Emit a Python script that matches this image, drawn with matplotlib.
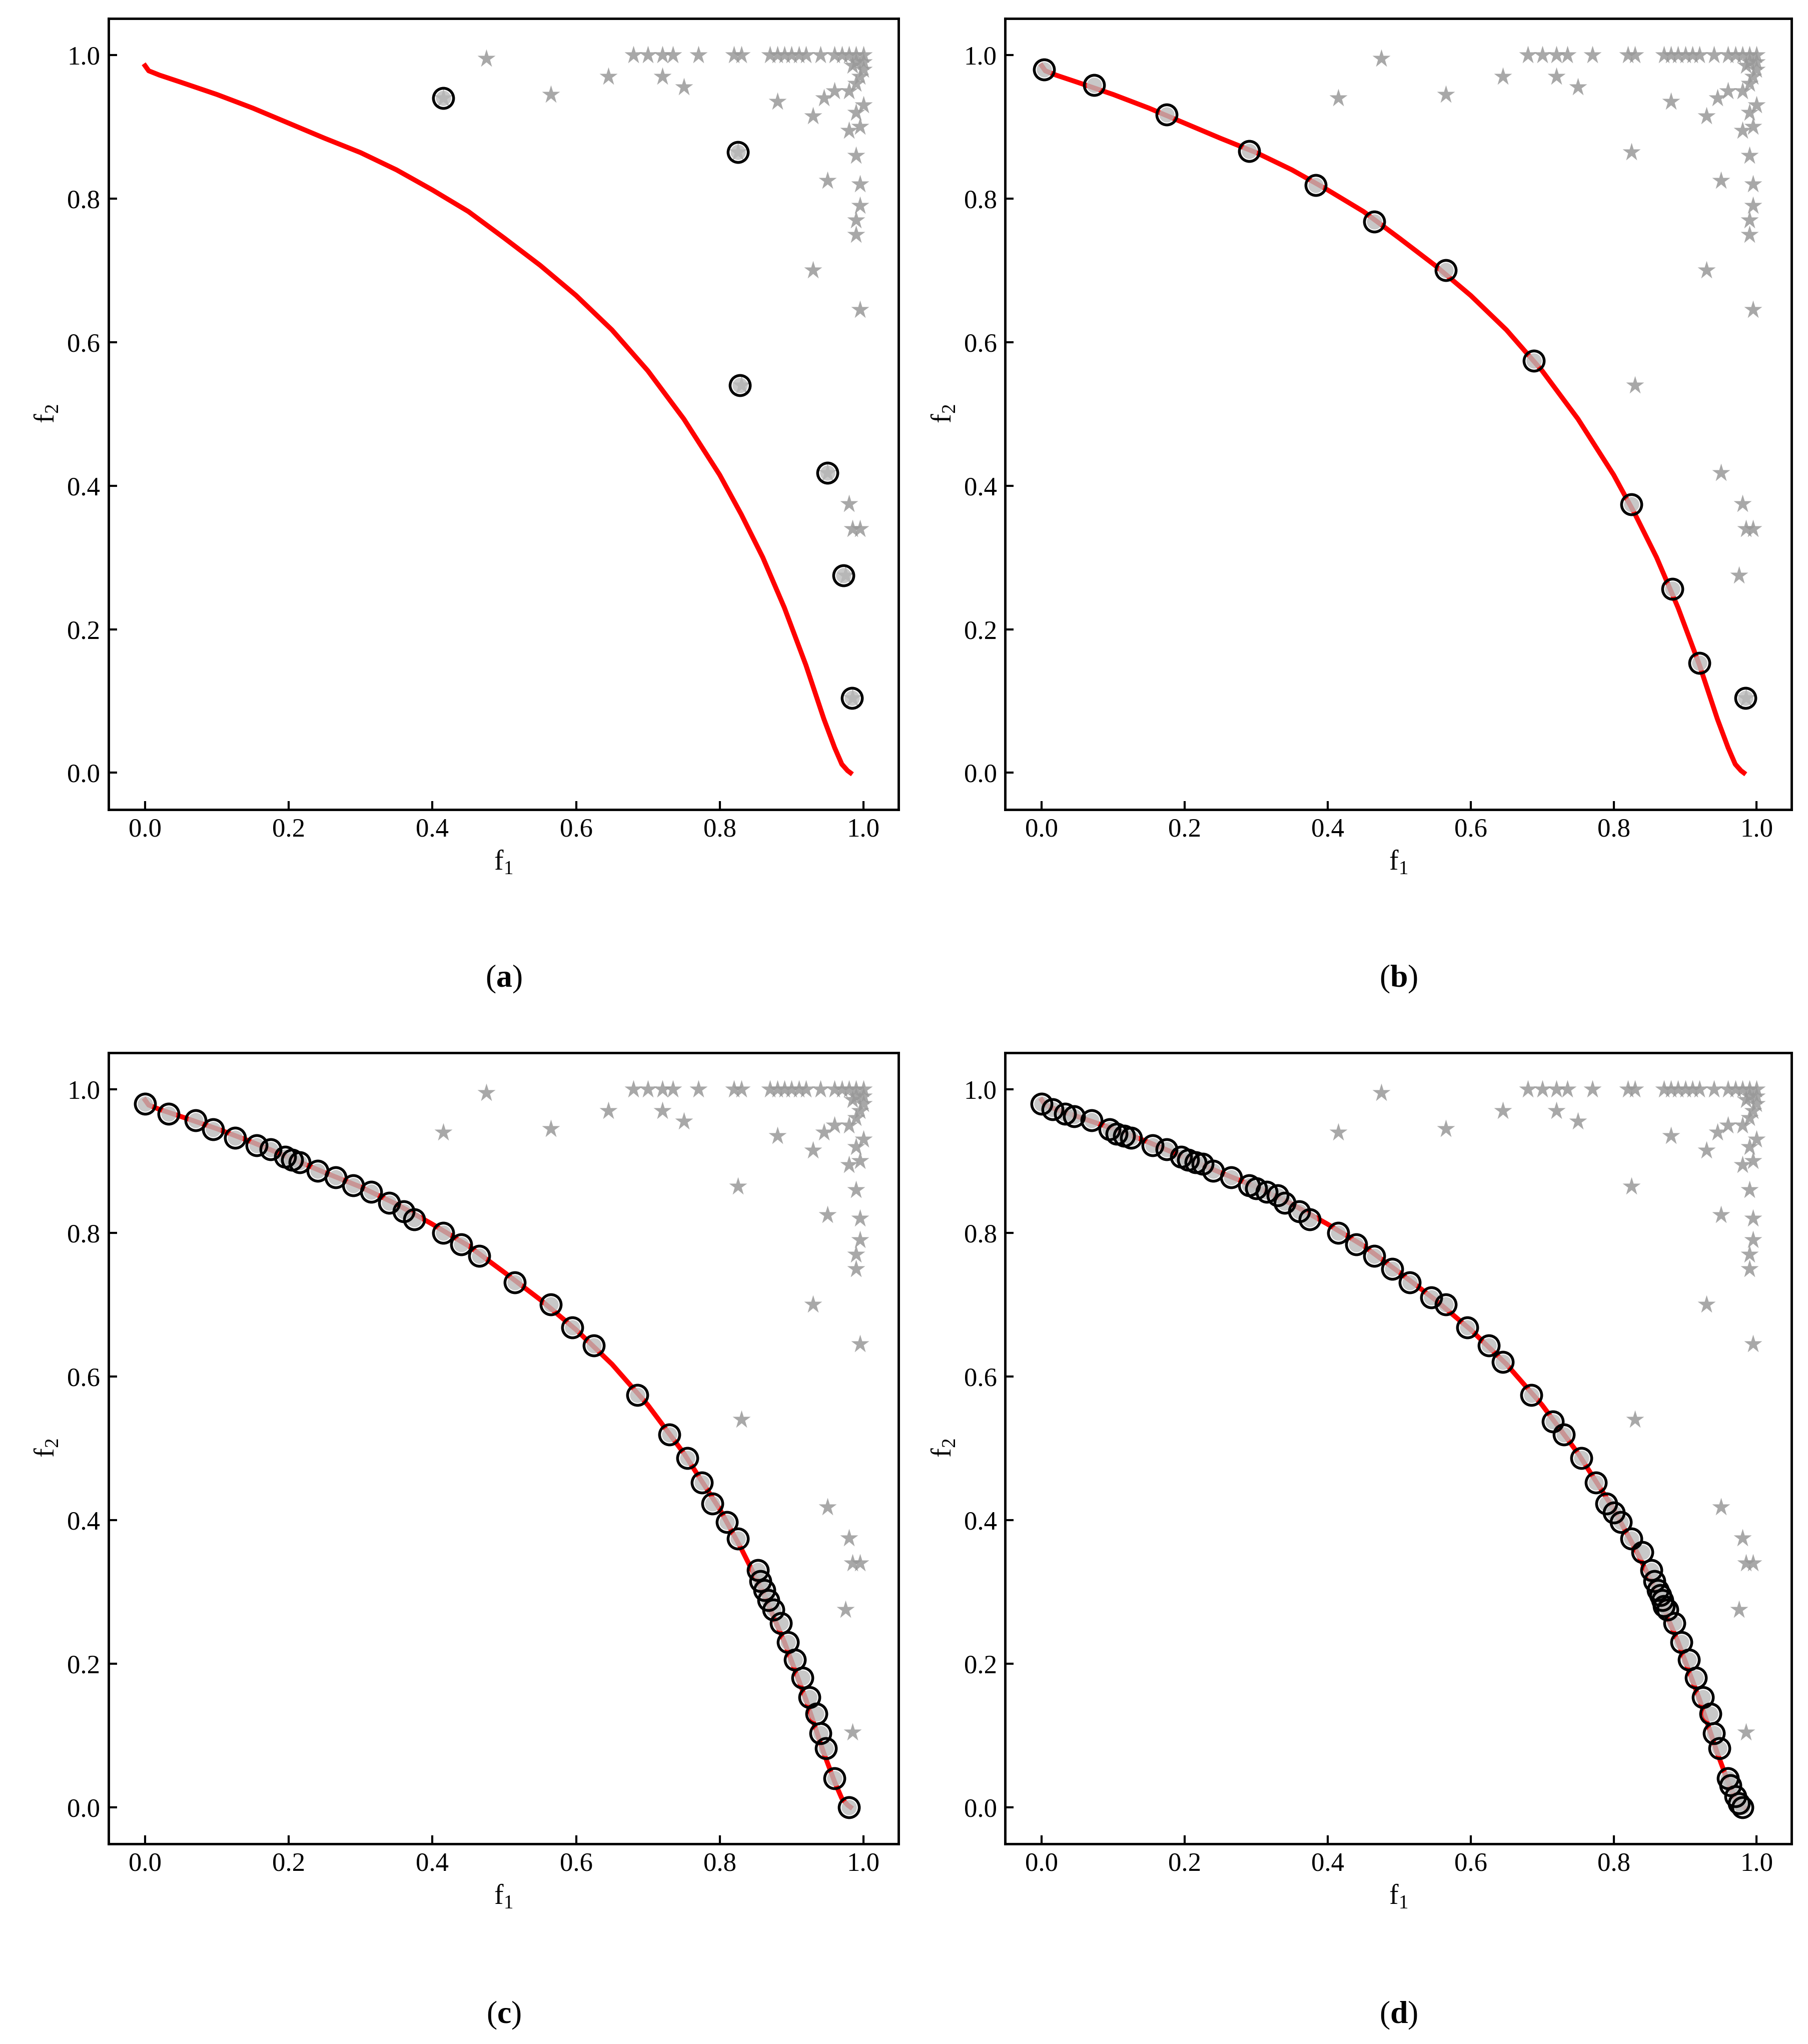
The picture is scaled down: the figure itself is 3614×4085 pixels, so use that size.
import matplotlib
matplotlib.use("Agg")
import matplotlib.pyplot as plt

plt.rcParams['font.family'] = ['Liberation Serif', 'DejaVu Serif']
plt.rcParams['mathtext.fontset'] = 'custom'
plt.rcParams['mathtext.rm'] = 'Liberation Serif'
plt.rcParams['mathtext.bf'] = 'Liberation Serif:bold'

front_f1 = [0.0, 0.005, 0.02, 0.05, 0.1, 0.15, 0.2, 0.25, 0.3, 0.35, 0.4, 0.45, 0.5, 0.55, 0.6, 0.65,
            0.7, 0.75, 0.8, 0.83, 0.86, 0.89, 0.92, 0.945, 0.96, 0.97, 0.978, 0.982]
front_f2 = [0.985, 0.978, 0.972, 0.962, 0.945, 0.926, 0.905, 0.884, 0.864, 0.84, 0.812, 0.782, 0.745, 0.707, 0.665, 0.617,
            0.56, 0.493, 0.415, 0.36, 0.3, 0.23, 0.15, 0.075, 0.035, 0.012, 0.003, 0.0]

stars_f1 = [0.475, 0.68, 0.70, 0.72, 0.735, 0.77, 0.82, 0.83, 0.87, 0.88, 0.89, 0.90, 0.91, 0.92, 0.94, 0.96, 0.97,
            0.98, 0.99, 1.0, 0.565, 0.645, 0.72, 0.75, 0.88, 0.93, 0.945, 0.96, 0.95, 0.93, 0.98, 0.99, 0.995,
            0.995, 0.99, 0.99, 0.995, 0.98, 0.985, 0.995, 0.975, 0.985, 0.95, 0.83, 0.825, 0.415, 1.0, 0.995,
            0.99, 1.0, 0.99, 0.995, 0.98, 0.985, 1.0, 0.99]
stars_f2 = [0.995, 1.0, 1.0, 1.0, 1.0, 1.0, 1.0, 1.0, 1.0, 1.0, 1.0, 1.0, 1.0, 1.0, 1.0, 1.0, 1.0,
            1.0, 1.0, 1.0, 0.945, 0.97, 0.97, 0.955, 0.935, 0.915, 0.94, 0.95, 0.825, 0.70, 0.895, 0.86, 0.82,
            0.79, 0.77, 0.75, 0.645, 0.375, 0.34, 0.34, 0.275, 0.104, 0.418, 0.54, 0.865, 0.94, 0.99, 0.97,
            0.96, 0.93, 0.92, 0.90, 0.95, 0.985, 0.98, 0.99]

a_f1 = [0.415, 0.825, 0.828, 0.95, 0.972, 0.984]
a_f2 = [0.94, 0.865, 0.54, 0.418, 0.275, 0.104]

b_f1 = [0.003, 0.073, 0.175, 0.29, 0.383, 0.465, 0.565, 0.688, 0.825, 0.882, 0.92, 0.984]
b_f2 = [0.98, 0.958, 0.917, 0.866, 0.819, 0.768, 0.70, 0.574, 0.374, 0.256, 0.153, 0.104]

c_f1 = [0.0, 0.033, 0.07, 0.095, 0.125, 0.155, 0.175, 0.195, 0.205, 0.215, 0.24, 0.265, 0.29, 0.315, 0.34,
        0.36, 0.375, 0.415, 0.44, 0.465, 0.515, 0.565, 0.595, 0.625, 0.685, 0.73, 0.755, 0.775, 0.79, 0.81,
        0.825, 0.853, 0.857, 0.862, 0.868, 0.875, 0.885, 0.895, 0.905, 0.915, 0.925, 0.935, 0.94, 0.948, 0.96, 0.98]
c_f2 = [0.98, 0.966, 0.957, 0.944, 0.932, 0.922, 0.916, 0.906, 0.902, 0.898, 0.886, 0.877, 0.866, 0.857, 0.842,
        0.83, 0.819, 0.80, 0.784, 0.768, 0.731, 0.70, 0.668, 0.643, 0.574, 0.519, 0.486, 0.452, 0.423, 0.397,
        0.374, 0.33, 0.315, 0.302, 0.288, 0.275, 0.256, 0.23, 0.205, 0.18, 0.153, 0.13, 0.103, 0.082, 0.04, 0.0]

d_f1 = c_f1 + [0.015, 0.045, 0.105, 0.115, 0.225, 0.30, 0.33, 0.49, 0.545, 0.645, 0.715, 0.80, 0.84,
               0.865, 0.87, 0.963, 0.97, 0.975]
d_f2 = c_f2 + [0.972, 0.962, 0.938, 0.935, 0.896, 0.862, 0.852, 0.75, 0.71, 0.62, 0.537, 0.41, 0.355,
               0.295, 0.28, 0.03, 0.015, 0.005]

panels = [("a", a_f1, a_f2), ("b", b_f1, b_f2), ("c", c_f1, c_f2), ("d", d_f1, d_f2)]
rects = [(0.060, 0.604, 0.437, 0.387), (0.556, 0.604, 0.435, 0.387),
         (0.060, 0.098, 0.437, 0.387), (0.556, 0.098, 0.435, 0.387)]
cap_y = [0.521, 0.521, 0.014, 0.014]

fig = plt.figure(figsize=(36.14, 40.85), dpi=100)
for (lab, px, py), r, cy in zip(panels, rects, cap_y):
    ax = fig.add_axes(r)
    ax.plot(front_f1, front_f2, color='red', lw=7, zorder=2)
    ax.plot(stars_f1, stars_f2, '*', color='#999999', alpha=0.85, ms=28, mec='none', zorder=3)
    ax.plot(px, py, 'o', mfc='none', mec='black', mew=4, ms=29, zorder=4)
    ax.plot(px, py, 'o', mfc='#bbbbbb', mec='none', ms=22, alpha=0.8, zorder=3)
    ax.set_xlim(-0.051, 1.049)
    ax.set_ylim(-0.051, 1.051)
    ax.set_xticks([0, 0.2, 0.4, 0.6, 0.8, 1.0])
    ax.set_yticks([0, 0.2, 0.4, 0.6, 0.8, 1.0])
    ax.tick_params(direction='in', labelsize=38, width=3, length=12, pad=12)
    for s in ax.spines.values():
        s.set_linewidth(3.5)
    ax.set_xlabel(r'f$_1$', fontsize=40, labelpad=10)
    ax.set_ylabel(r'f$_2$', fontsize=40, labelpad=10)
    cx = r[0] + r[2] / 2
    fig.text(cx, cy, r'($\mathbf{%s}$)' % lab, fontsize=46, ha='center', va='center')

fig.savefig('out.png', dpi=100)
